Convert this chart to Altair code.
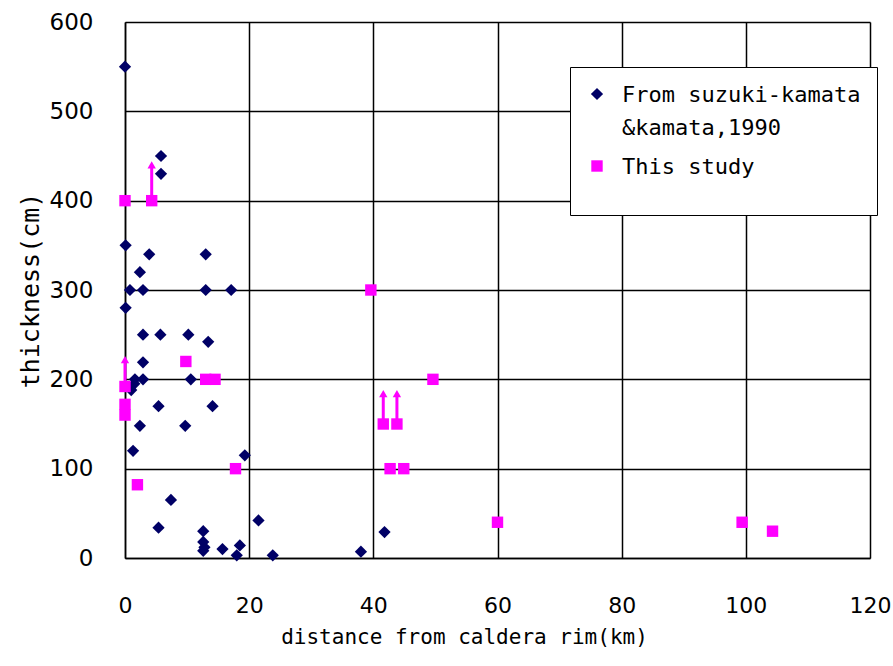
import altair as alt
import pandas as pd

# Suzuki-Kamata & Kamata 1990 data (distance km, thickness cm)
ref_x = [0.0, 5.8, 5.8, 0.1, 3.9, 13.0, 2.4, 0.8, 2.9, 13.0, 17.1, 0.1, 2.9, 5.7, 10.2,
         13.4, 2.9, 1.6, 2.9, 10.6, 1.5, 1.0, 5.4, 14.1, 2.4, 9.7, 1.3, 19.3, 7.4, 5.4,
         21.5, 12.6, 12.6, 12.8, 12.6, 15.7, 18.5, 18.0, 23.8, 38.0, 41.8]
ref_y = [550, 450, 430, 350, 340, 340, 320, 300, 300, 300, 300, 280, 250, 250, 250,
         242, 219, 200, 200, 200, 195, 188, 170, 170, 148, 148, 120, 115, 65, 34,
         42, 30, 18, 12, 8, 10, 14, 3, 3, 7, 29]

# This study
study_x = [0.0, 4.3, 0.0, 0.0, 0.0, 9.8, 13.0, 14.5, 17.8, 2.0, 39.6, 49.6, 41.6, 43.8,
           42.7, 44.9, 60.0, 99.4, 104.3]
study_y = [400, 400, 192, 172, 160, 220, 200, 200, 100, 82, 300, 200, 150, 150,
           100, 100, 40, 40, 30]

# Minimum-thickness arrows (this study)
arrow_x = [0.0, 4.3, 41.6, 43.8]
arrow_base = [192, 400, 150, 150]
arrow_tip = [222, 440, 184, 184]

series_names = ["From suzuki-kamata&kamata,1990", "This study"]
series_colors = ["#000066", "#FF00FF"]
series_shapes = ["diamond", "square"]
series_sizes = [150, 130]

df = pd.concat([
    pd.DataFrame({"x": ref_x, "y": ref_y, "series": series_names[0]}),
    pd.DataFrame({"x": study_x, "y": study_y, "series": series_names[1]}),
])
arr = pd.DataFrame({"x": arrow_x, "y": arrow_base, "y2": arrow_tip})

MONO = "DejaVu Sans Mono"
YFONT = "DejaVu Sans"
XFONT = "DejaVu Sans"
SHIFT = 8  # downward shift applied to guide labels via style

xscale = alt.Scale(domain=[0, 120], nice=False, zero=False)
yscale = alt.Scale(domain=[0, 600], nice=False)

xaxis = alt.Axis(values=[0, 20, 40, 60, 80, 100, 120], title="distance from caldera rim(km)",
                 grid=True, gridColor="black", gridWidth=1.5, gridOpacity=1,
                 ticks=False, domainColor="black", domainWidth=1.5, labelFlush=False,
                 labelFont=XFONT, labelFontSize=22, labelColor="black", labelPadding=29,
                 titleFont=MONO, titleFontSize=21, titleFontWeight="normal", titleColor="black",
                 titleX=339, titleY=79, titleBaseline="middle")
yaxis = alt.Axis(values=[0, 100, 200, 300, 400, 500, 600], title="thickness(cm)",
                 grid=True, gridColor="black", gridWidth=1.5, gridOpacity=1,
                 ticks=False, domainColor="black", domainWidth=1.5, labelFlush=False,
                 labelFont=YFONT, labelFontSize=23, labelColor="black", labelPadding=32,
                 labelOffset=-SHIFT,
                 titleFont=MONO, titleFontSize=25, titleFontWeight="normal", titleColor="black",
                 titleX=-95, titleBaseline="middle")

points = alt.Chart(df).mark_point(filled=True, opacity=1).encode(
    x=alt.X("x:Q", scale=xscale, axis=xaxis),
    y=alt.Y("y:Q", scale=yscale, axis=yaxis),
    color=alt.Color("series:N", scale=alt.Scale(domain=series_names, range=series_colors),
                    legend=alt.Legend(
                        title=" ", titleOrient="bottom", titleFontSize=22, titlePadding=0,
                        orient="none", legendX=445, legendY=45,
                        direction="vertical",
                        fillColor="white", strokeColor="black",
                        padding=16, rowPadding=16,
                        labelFont=MONO, labelFontSize=22, labelColor="black",
                        labelBaseline="alphabetic", labelOffset=14,
                        labelLimit=400, symbolSize=70,
                        labelExpr="datum.label == 'From suzuki-kamata&kamata,1990' ? ['From suzuki-kamata', '&kamata,1990'] : datum.label",
                    )),
    shape=alt.Shape("series:N", scale=alt.Scale(domain=series_names, range=series_shapes),
                    legend=None),
    size=alt.Size("series:N", scale=alt.Scale(domain=series_names, range=series_sizes),
                  legend=None),
)

rules = alt.Chart(arr).mark_rule(color="#FF00FF", strokeWidth=3).encode(
    x="x:Q", y="y:Q", y2="y2:Q"
)
heads = alt.Chart(arr).mark_point(shape="triangle-up", filled=True, opacity=1,
                                  color="#FF00FF", size=70).encode(
    x="x:Q", y="y2:Q"
)

chart = alt.layer(rules, heads, points).properties(
    width=745, height=536,
    padding={"left": 125, "top": 22, "right": 23, "bottom": 108},
    autosize=alt.AutoSizeParams(type="none"),
    background="white",
).configure_view(stroke="black", strokeWidth=1.5).configure_legend(
    strokeWidth=1.5
).configure(style={"guide-label": {"lineHeight": 33, "dy": SHIFT}})

chart.save("out.html", embed_options={"renderer": "svg", "actions": False})
